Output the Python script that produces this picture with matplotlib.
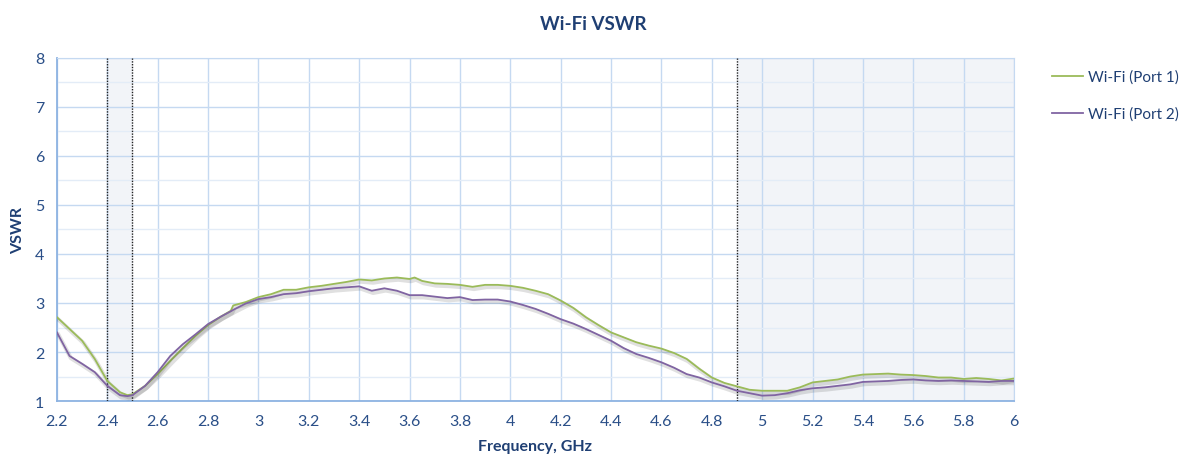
import numpy as np
import matplotlib
matplotlib.use('Agg')
import matplotlib.pyplot as plt
import matplotlib.patheffects as pe
from matplotlib.lines import Line2D

# frequency points, GHz
freq = [2.2, 2.25, 2.3, 2.35, 2.4, 2.45, 2.48, 2.5, 2.55, 2.6, 2.65, 2.7, 2.75, 2.8,
        2.85, 2.89, 2.9, 2.95, 3.0, 3.05, 3.1, 3.15, 3.2, 3.25, 3.3, 3.35, 3.4, 3.45,
        3.5, 3.55, 3.6, 3.62, 3.65, 3.7, 3.75, 3.8, 3.85, 3.9, 3.95, 4.0, 4.05, 4.1,
        4.15, 4.2, 4.25, 4.3, 4.35, 4.4, 4.45, 4.5, 4.55, 4.6, 4.65, 4.7, 4.75, 4.8,
        4.85, 4.9, 4.95, 5.0, 5.05, 5.1, 5.15, 5.2, 5.25, 5.3, 5.35, 5.4, 5.45, 5.5,
        5.55, 5.6, 5.65, 5.7, 5.75, 5.8, 5.85, 5.9, 5.95, 6.0]

port1 = [2.71, 2.47, 2.23, 1.86, 1.41, 1.18, 1.12, 1.14, 1.31, 1.55, 1.82, 2.08, 2.33, 2.55,
         2.72, 2.84, 2.95, 3.02, 3.12, 3.18, 3.27, 3.27, 3.32, 3.35, 3.39, 3.43, 3.48, 3.46,
         3.50, 3.52, 3.49, 3.52, 3.45, 3.40, 3.39, 3.37, 3.33, 3.37, 3.37, 3.35, 3.31, 3.25,
         3.18, 3.05, 2.90, 2.71, 2.55, 2.40, 2.30, 2.20, 2.13, 2.07, 1.98, 1.86, 1.66, 1.48,
         1.37, 1.30, 1.23, 1.21, 1.21, 1.21, 1.28, 1.38, 1.41, 1.44, 1.50, 1.54, 1.55, 1.56,
         1.54, 1.53, 1.51, 1.48, 1.48, 1.45, 1.47, 1.45, 1.42, 1.46]

port2 = [2.40, 1.92, 1.76, 1.59, 1.31, 1.12, 1.10, 1.12, 1.31, 1.59, 1.92, 2.16, 2.36, 2.57,
         2.72, 2.83, 2.86, 2.99, 3.08, 3.12, 3.18, 3.20, 3.24, 3.27, 3.30, 3.32, 3.34, 3.25,
         3.30, 3.25, 3.16, 3.16, 3.16, 3.13, 3.10, 3.12, 3.06, 3.07, 3.07, 3.03, 2.96, 2.88,
         2.78, 2.67, 2.58, 2.47, 2.35, 2.23, 2.08, 1.96, 1.88, 1.79, 1.68, 1.55, 1.48, 1.38,
         1.30, 1.21, 1.16, 1.11, 1.12, 1.16, 1.22, 1.26, 1.28, 1.31, 1.34, 1.39, 1.40, 1.41,
         1.43, 1.44, 1.42, 1.41, 1.42, 1.41, 1.40, 1.39, 1.41, 1.41]

series_names = ['Wi-Fi (Port 1)', 'Wi-Fi (Port 2)']
series_colors = ['#9bbb59', '#8064a2']

bands = [(2.4, 2.5), (4.9, 6.0)]
band_edges = [2.4, 2.5, 4.9]

plt.rcParams['font.family'] = ['Lato', 'DejaVu Sans']
navy = '#1f3f73'
tick_blue = '#2a4f88'
grid_blue = '#c5d9f1'

fig = plt.figure(figsize=(11.86, 4.6), dpi=100)
ax = fig.add_axes([0.048, 0.126, 0.807, 0.746])

for lo, hi in bands:
    ax.axvspan(lo, hi, color='#f2f4f8', zorder=0)
for xe in band_edges:
    ax.axvline(xe, color='#222222', lw=1.0, ls=(0, (1, 1)), zorder=3)

shadow = [pe.SimpleLineShadow(offset=(1.0, -1.6), shadow_color='k', alpha=0.12, linewidth=3.0),
          pe.Normal()]
for ys, name, col in zip([port1, port2], series_names, series_colors):
    ax.plot(freq, ys, color=col, lw=1.3, path_effects=shadow, zorder=4)

ax.set_xlim(2.2, 6.0)
ax.set_ylim(1, 8)
xt = np.arange(2.2, 6.01, 0.2)
ax.set_xticks(xt)
ax.set_xticklabels(['{:g}'.format(round(v, 1)) for v in xt])
ax.set_yticks(range(1, 9))
ax.set_yticks(np.arange(1.5, 8, 1.0), minor=True)
ax.grid(True, which='major', color=grid_blue, lw=1.0, zorder=1)
ax.grid(True, which='minor', axis='y', color='#e3ecf7', lw=1.0, zorder=1)
ax.set_axisbelow(True)

for side in ['top', 'right']:
    ax.spines[side].set_color(grid_blue)
for side in ['left', 'bottom']:
    ax.spines[side].set_color('#8db3e2')
    ax.spines[side].set_linewidth(1.3)

ax.tick_params(which='both', length=0, labelsize=11.5, labelcolor=tick_blue, pad=9)
ax.set_xlabel('Frequency, GHz', fontsize=11.5, fontweight='bold', color=navy, labelpad=8)
ax.set_ylabel('VSWR', fontsize=11.5, fontweight='bold', color=navy, labelpad=7)
fig.suptitle('Wi-Fi VSWR', y=0.965, fontsize=13.5, fontweight='bold', color=navy)

handles = [Line2D([], [], color=c, lw=1.3) for c in series_colors]
leg = fig.legend(handles, series_names, loc='upper left', bbox_to_anchor=(0.882, 0.86),
                 frameon=False, fontsize=11, handlelength=2.0, handletextpad=0.35,
                 labelspacing=1.5, borderaxespad=0.0)
for t in leg.get_texts():
    t.set_color(navy)

plt.savefig('out.png', dpi=100)
plt.close(fig)
